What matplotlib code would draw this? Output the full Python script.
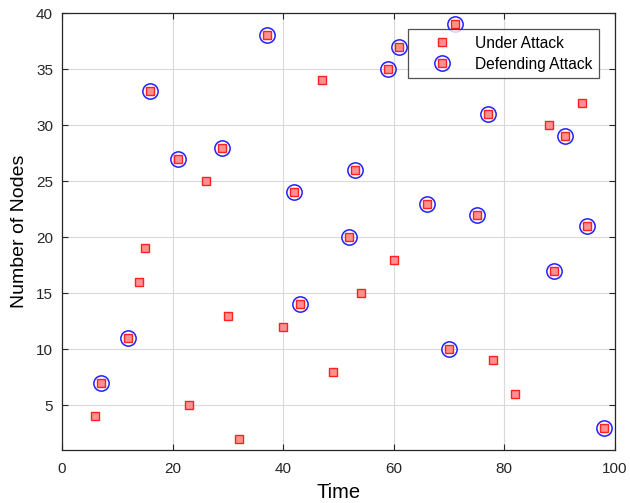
import matplotlib
matplotlib.use("Agg")
import matplotlib.pyplot as plt
from matplotlib.lines import Line2D

plt.rcParams['font.family'] = ['Liberation Sans', 'DejaVu Sans']

# Under attack (all nodes)
attack_time = [6, 7, 12, 14, 15, 16, 21, 23, 26, 29, 30, 32, 37, 40, 42, 43, 47, 49,
               52, 53, 54, 59, 60, 61, 66, 70, 71, 75, 77, 78, 82, 88, 89, 91, 94, 95, 98]
attack_nodes = [4, 7, 11, 16, 19, 33, 27, 5, 25, 28, 13, 2, 38, 12, 24, 14, 34, 8,
                20, 26, 15, 35, 18, 37, 23, 10, 39, 22, 31, 9, 6, 30, 17, 29, 32, 21, 3]

# Defending attack (circled)
defend_time = [7, 12, 16, 21, 29, 37, 42, 43, 52, 53, 59, 61, 66, 70, 71, 75, 77, 89, 91, 95, 98]
defend_nodes = [7, 11, 33, 27, 28, 38, 24, 14, 20, 26, 35, 37, 23, 10, 39, 22, 31, 17, 29, 21, 3]

x_ticks = [0, 20, 40, 60, 80, 100]
y_ticks = [5, 10, 15, 20, 25, 30, 35, 40]

sq = dict(linestyle='none', marker='s', markersize=5.5,
          markerfacecolor='#ff9090', markeredgecolor='#ff2020', markeredgewidth=1.0)
ci = dict(linestyle='none', marker='o', markersize=11,
          markerfacecolor='none', markeredgecolor='#2020ff', markeredgewidth=1.1)

fig = plt.figure(figsize=(6.3, 5.03), dpi=100)
ax = fig.add_axes([0.0984, 0.1054, 0.8776, 0.8686])

ax.plot(attack_time, attack_nodes, label='Under Attack', zorder=3, **sq)
ax.plot(defend_time, defend_nodes, label='Defending Attack', zorder=4, **ci)

ax.set_xlim(0, 100)
ax.set_ylim(1, 40)
ax.set_xticks(x_ticks)
ax.set_yticks(y_ticks)
ax.tick_params(direction='in', top=True, right=True, labelsize=11, length=4,
               width=0.8, colors='#262626')
ax.tick_params(axis='x', pad=9)
ax.tick_params(axis='y', pad=6.5)
ax.grid(True, color='#d9d9d9', linewidth=0.8)
ax.set_axisbelow(True)
for s in ax.spines.values():
    s.set_color('#262626')
    s.set_linewidth(0.9)

ax.set_xlabel('Time', fontsize=14.5, labelpad=5)
ax.set_ylabel('Number of Nodes', fontsize=14, labelpad=6)

h1 = Line2D([], [], **sq)
h2a = Line2D([], [], **ci)
h2b = Line2D([], [], **sq)
leg = ax.legend([h1, (h2a, h2b)], ['Under Attack', 'Defending Attack'],
                loc='upper right', bbox_to_anchor=(0.971, 0.963), borderaxespad=0,
                fontsize=11.2, frameon=True, fancybox=False, edgecolor='#262626',
                handlelength=3.6, handletextpad=0.3, borderpad=0.42,
                labelspacing=0.37)
leg.get_frame().set_linewidth(0.9)

fig.savefig('out.png', dpi=100)
